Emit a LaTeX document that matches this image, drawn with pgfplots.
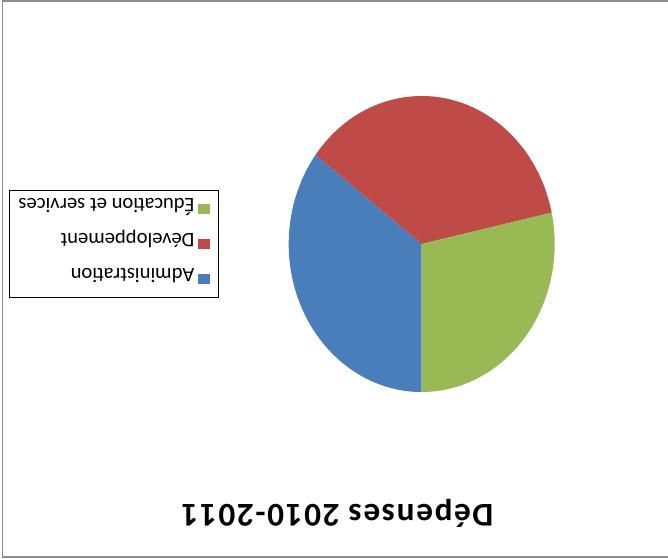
\documentclass[border=0pt]{standalone}
\usepackage{graphicx}
\usepackage{fontspec}
\setmainfont{Carlito}
\newfontfamily\titlefont[LetterSpace=5]{Carlito}
\usepackage{pgfplots}
\usepackage{pgfplotstable}
\pgfplotsset{compat=1.18}
\definecolor{cAdm}{HTML}{4A7EBB}
\definecolor{cDev}{HTML}{BE4B48}
\definecolor{cEdu}{HTML}{98B954}
\definecolor{framegray}{HTML}{8C8C8C}
\pgfplotstableread[col sep=comma]{
label,value
Administration,35.3
Développement,36.3
Éducation et services,28.4
}\piedata
\begin{document}
\rotatebox{180}{%
\begin{tikzpicture}
\pgfplotstablegetelem{0}{value}\of\piedata\let\va\pgfplotsretval
\pgfplotstablegetelem{1}{value}\of\piedata\let\vb\pgfplotsretval
\pgfplotstablegetelem{2}{value}\of\piedata\let\vc\pgfplotsretval
\pgfmathsetmacro\vsum{\va+\vb+\vc}
\pgfmathsetmacro\aA{90}
\pgfmathsetmacro\aB{\aA-360*\va/\vsum}
\pgfmathsetmacro\aC{\aB-360*\vb/\vsum}
\pgfmathsetmacro\aD{\aC-360*\vc/\vsum}
\begin{axis}[
  x=0.5pt, y=0.5pt,
  xmin=0, xmax=668, ymin=0, ymax=558,
  hide axis, clip=false,
  title={\titlefont\bfseries Dépenses 2010-2011},
  title style={at={(axis description cs:0.4948,0.8817)}, anchor=base, font=\fontsize{16.6}{19}\selectfont, inner sep=0pt},
  legend style={at={(axis description cs:0.6722,0.5336)}, anchor=north west,
    draw=black, line width=0.5pt, font=\fontsize{10.3}{12}\selectfont,
    inner xsep=4.4pt, inner ysep=4.15pt, row sep=7.45pt,
    nodes={inner sep=0pt, text height=10.05pt, text depth=0pt}},
  legend cell align=left,
  legend image code/.code={\fill[#1] (0pt,-2.7pt) rectangle (5.7pt,2.7pt); \path (7.6pt,0pt);},
]
\draw[framegray, line width=0.8pt] (axis cs:-3,0.8) rectangle (axis cs:665.5,556.7);
\fill[cAdm] (axis cs:246.3,244) -- ([shift={(\aA:66.5pt and 74pt)}]axis cs:246.3,244) arc[start angle=\aA, end angle=\aB, x radius=66.5pt, y radius=74pt] -- cycle;
\fill[cDev] (axis cs:246.3,244) -- ([shift={(\aB:66.5pt and 74pt)}]axis cs:246.3,244) arc[start angle=\aB, end angle=\aC, x radius=66.5pt, y radius=74pt] -- cycle;
\fill[cEdu] (axis cs:246.3,244) -- ([shift={(\aC:66.5pt and 74pt)}]axis cs:246.3,244) arc[start angle=\aC, end angle=\aD, x radius=66.5pt, y radius=74pt] -- cycle;
\addlegendimage{fill=cAdm, draw=none}
\addlegendentry{Administration}
\addlegendimage{fill=cDev, draw=none}
\addlegendentry{Développement}
\addlegendimage{fill=cEdu, draw=none}
\addlegendentry{Éducation et services}
\end{axis}
\pgfresetboundingbox
\path (current axis.south west) rectangle (current axis.north east);
\end{tikzpicture}%
}
\end{document}
